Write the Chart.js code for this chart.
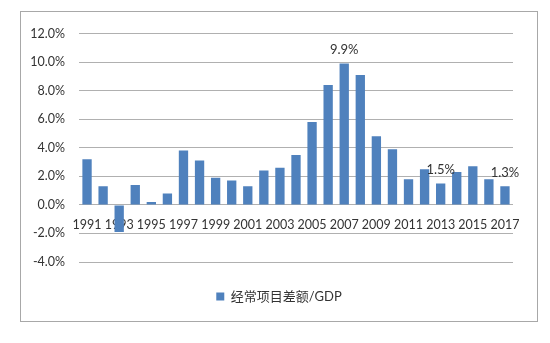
<!DOCTYPE html>
<html><head><meta charset="utf-8">
<script src="https://cdn.jsdelivr.net/npm/chart.js@4/dist/chart.umd.min.js"></script>
<style>
html,body{margin:0;padding:0;background:#fff;}
#box{position:absolute;left:20px;top:11px;width:516px;height:309px;border:1px solid #a8a8a8;}
canvas{display:block;}
</style></head>
<body>
<div id="box"><canvas id="c" width="516" height="309"></canvas></div>
<script>
const years = ['1991','1992','1993','1994','1995','1996','1997','1998','1999','2000','2001','2002','2003','2004','2005','2006','2007','2008','2009','2010','2011','2012','2013','2014','2015','2016','2017'];
const ratio = [3.2,1.3,-1.9,1.4,0.2,0.8,3.8,3.1,1.9,1.7,1.3,2.4,2.6,3.5,5.8,8.4,9.9,9.1,4.8,3.9,1.8,2.5,1.5,2.3,2.7,1.8,1.3];
const labelledYears = ['2007','2013','2017'];
const seriesName = '经常项目差额/GDP';
const yTicks = {min:-4, max:12, step:2};

const FONT = "Lato, 'Noto Sans CJK SC', sans-serif";

const valueLabels = {
  id:'valueLabels',
  afterDatasetsDraw(chart){
    const ctx = chart.ctx;
    const meta = chart.getDatasetMeta(0);
    ctx.save();
    ctx.font = "13px " + FONT;
    ctx.fillStyle = '#333';
    ctx.textAlign = 'center';
    ctx.textBaseline = 'bottom';
    labelledYears.forEach(y => {
      const i = years.indexOf(y);
      const el = meta.data[i];
      ctx.fillText(ratio[i].toFixed(1) + '%', el.x, el.y - 7);
    });
    ctx.restore();
  }
};

new Chart(document.getElementById('c'), {
  type:'bar',
  data:{labels:years, datasets:[{label:seriesName, data:ratio, backgroundColor:'#4F81BD', barPercentage:0.58, categoryPercentage:1.0}]},
  options:{
    responsive:false, animation:false,
    layout:{padding:{left:0,right:0,top:7,bottom:8}},
    plugins:{
      tooltip:{enabled:false},
      legend:{position:'bottom', labels:{boxWidth:8, boxHeight:8, padding:28, color:'#333', font:{size:13, family:FONT}}}
    },
    scales:{
      x:{position:{y:0}, grid:{display:false}, border:{display:false},
         ticks:{autoSkip:false, maxRotation:0, minRotation:0, padding:5, color:'#333', font:{size:12.5, family:FONT},
           callback:function(v,i){ return i%2===0 ? years[i] : ''; }}},
      y:{min:yTicks.min, max:yTicks.max, grid:{color:'#b0b0b0', lineWidth:1, drawTicks:false}, border:{display:false},
         afterFit(s){ s.width = 58; },
         ticks:{stepSize:yTicks.step, padding:14, color:'#333', font:{size:12.5, family:FONT},
           callback:v => v.toFixed(1) + '%'}},
      yRight:{position:'right', display:true, grid:{display:false}, border:{display:false},
         ticks:{display:false}, afterFit(s){ s.width = 24; }}
    }
  },
  plugins:[valueLabels]
});
</script>
</body></html>
